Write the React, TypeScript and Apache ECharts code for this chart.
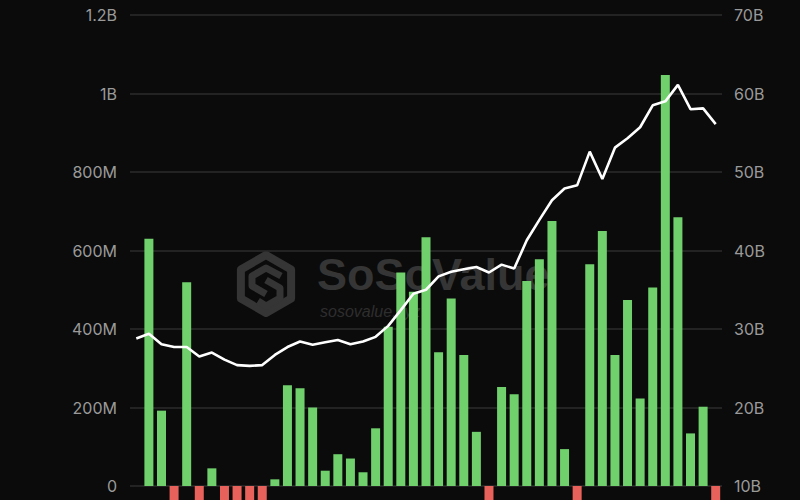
import React, { useEffect, useRef } from "react";
import * as echarts from "echarts";

const categories: string[] = Array.from({ length: 47 }, (_, i) => `D${i + 1}`);

// daily net flow, in millions of USD (null = no bar)
const flowValues: (number | null)[] = [
  null, 630, 192, -50, 519, -50, 45, -50, -50, -50,
  -50, 17, 257, 249, 200, 39, 81, 70, 35, 147,
  406, 544, 495, 634, 341, 478, 334, 138, -50, 252,
  234, 522, 578, 675, 94, -50, 565, 650, 334, 474,
  223, 506, 1047, 685, 134, 202, -50,
];

// total net assets, in billions of USD
const assetValues: number[] = [
  28.8, 29.4, 28.05, 27.7, 27.7, 26.5, 27.0, 26.1, 25.4, 25.3,
  25.4, 26.7, 27.7, 28.4, 28.0, 28.3, 28.6, 28.05, 28.4, 29.0,
  30.4, 32.4, 34.5, 35.0, 36.7, 37.3, 37.6, 37.9, 37.2, 38.2,
  37.7, 41.3, 43.9, 46.4, 47.9, 48.3, 52.6, 49.1, 53.1, 54.3,
  55.7, 58.5, 59.0, 61.1, 58.0, 58.1, 56.1,
];

const leftTicks = { min: -200, max: 1200, interval: 200 };
const rightTicks = { min: 0, max: 70, interval: 10 };

function fmtLeft(v: number): string {
  if (v === 0) return "0";
  if (Math.abs(v) >= 1000) return `${v / 1000}B`;
  return `${v}M`;
}

function hexPoints(cx: number, cy: number, r: number): number[][] {
  const pts: number[][] = [];
  for (let k = 0; k < 6; k++) {
    const a = (Math.PI / 3) * k - Math.PI / 2;
    pts.push([cx + r * Math.cos(a), cy + r * Math.sin(a)]);
  }
  return pts;
}

export default function App() {
  const ref = useRef<HTMLDivElement>(null);

  useEffect(() => {
    if (!ref.current) return;
    const chart = echarts.init(ref.current, null, { renderer: "svg" });
    const wm = "#353535";
    const option: any = {
      animation: false,
      backgroundColor: "#0b0b0b",
      grid: { left: 130, right: 78, top: 15, bottom: 15.5, containLabel: false },
      graphic: [
        {
          type: "polygon",
          z: 0,
          shape: { points: hexPoints(266, 284, 29) },
          style: { fill: "none", stroke: wm, lineWidth: 8, lineJoin: "round" },
        },
        {
          type: "polyline",
          z: 0,
          shape: { points: [[281, 276], [266, 268], [252, 276], [252, 286], [266, 294]] },
          style: { fill: "none", stroke: wm, lineWidth: 7, lineJoin: "round" },
        },
        {
          type: "polyline",
          z: 0,
          shape: { points: [[266, 280], [280, 288], [280, 298], [266, 306], [258, 301]] },
          style: { fill: "none", stroke: wm, lineWidth: 7, lineJoin: "round" },
        },
        {
          type: "text",
          z: 0,
          left: 317,
          top: 252,
          style: {
            text: "{a|SoSoValue}\n{b|sosovalue.xyz}",
            rich: {
              a: {
                fill: wm,
                font: "bold 45px 'Liberation Sans', sans-serif",
                lineHeight: 44,
              },
              b: {
                fill: "#2e2e2e",
                font: "italic 16px 'Liberation Sans', sans-serif",
                lineHeight: 30,
                padding: [0, 0, 0, 3],
              },
            },
          },
        },
      ],
      xAxis: {
        type: "category",
        data: categories,
        boundaryGap: true,
        axisLine: { show: false },
        axisTick: { show: false },
        axisLabel: { show: false },
        splitLine: { show: false },
      },
      yAxis: [
        {
          type: "value",
          min: leftTicks.min,
          max: leftTicks.max,
          interval: leftTicks.interval,
          position: "left",
          axisLine: { show: false },
          axisTick: { show: false },
          axisLabel: {
            color: "#9a9a9a",
            fontSize: 16,
            fontFamily: "Inter, 'Noto Sans', sans-serif",
            margin: 13,
            showMinLabel: false,
            formatter: (v: number) => fmtLeft(v),
          },
          splitLine: { show: true, lineStyle: { color: "#2c2c2c", width: 1.5 } },
        },
        {
          type: "value",
          min: rightTicks.min,
          max: rightTicks.max,
          interval: rightTicks.interval,
          position: "right",
          axisLine: { show: false },
          axisTick: { show: false },
          axisLabel: {
            color: "#9a9a9a",
            fontSize: 16,
            fontFamily: "Inter, 'Noto Sans', sans-serif",
            margin: 12,
            showMinLabel: false,
            formatter: (v: number) => `${v}B`,
          },
          splitLine: { show: false },
        },
      ],
      series: [
        {
          type: "bar",
          yAxisIndex: 0,
          data: flowValues,
          barWidth: 9,
          z: 2,
          itemStyle: {
            color: (p: any) => (p.value < 0 ? "#e8625b" : "#6fd06c"),
          },
        },
        {
          type: "line",
          yAxisIndex: 1,
          data: assetValues,
          symbol: "none",
          z: 3,
          lineStyle: { color: "#ffffff", width: 2.6 },
        },
      ],
    };
    chart.setOption(option);
    return () => chart.dispose();
  }, []);

  return (
    <div
      style={{
        position: "fixed",
        left: 0,
        top: 0,
        width: 800,
        height: 500,
        overflow: "hidden",
        background: "#0b0b0b",
      }}
    >
      <div ref={ref} style={{ width: 800, height: 580 }} />
    </div>
  );
}
